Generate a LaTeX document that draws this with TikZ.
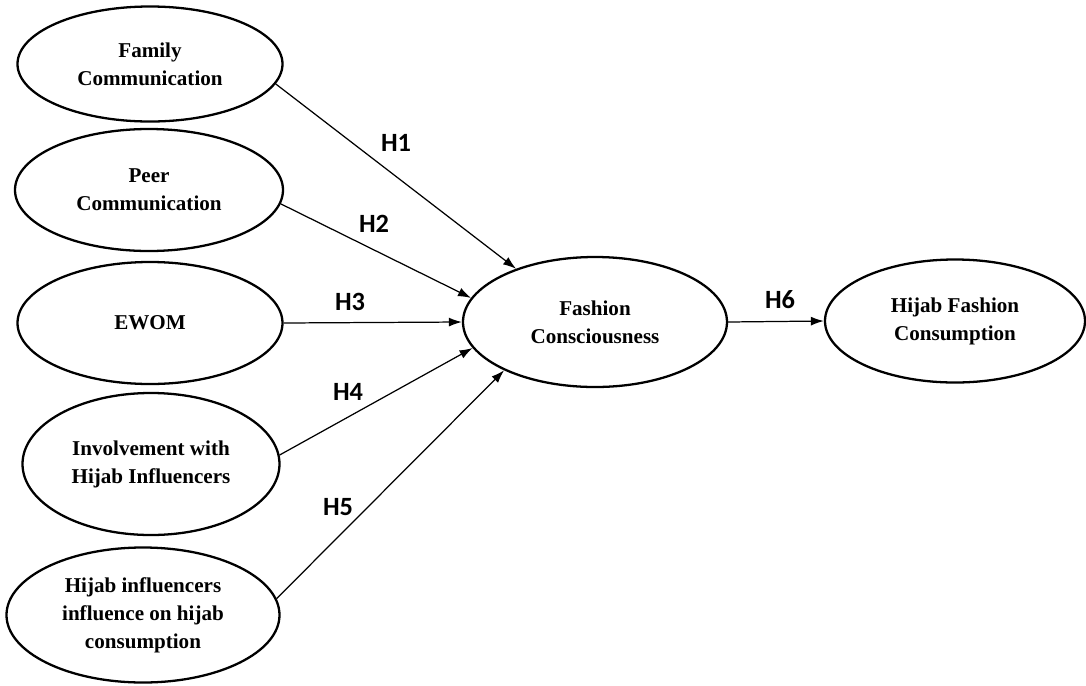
\documentclass[tikz,border=0pt]{standalone}
\usepackage{fontspec}
\setmainfont{Liberation Serif}
\newfontfamily\hypfont{Carlito}
\usetikzlibrary{shapes}
\usetikzlibrary{arrows.meta}
\tikzstyle{Construct}=[ellipse,draw=black,line width=1.3pt,inner sep=0pt,
align=center,font=\bfseries\fontsize{12}{16}\selectfont]
\tikzstyle{Path}=[draw=black,line width=0.7pt,
-{Latex[length=2.6mm,width=1.8mm]}]
\tikzstyle{Hyp}=[font=\hypfont\bfseries\fontsize{15}{18}\selectfont]

\begin{document}
\begin{tikzpicture}[x=.2mm,y=-.2mm]
        \useasboundingbox(0,0)rectangle(1086,686);
        \node[Construct,minimum width=5.3cm,minimum height=2.3cm](fam)
            at(150,64){Family\\Communication};
        \node[Construct,minimum width=5.36cm,minimum height=2.44cm](peer)
            at(149,190){Peer\\Communication};
        \node[Construct,minimum width=5.3cm,minimum height=2.44cm](ewom)
            at(150,323){EWOM};
        \node[Construct,minimum width=5.14cm,minimum height=2.84cm](inv)
            at(151,464){Involvement with\\Hijab Influencers};
        \node[Construct,minimum width=5.46cm,minimum height=2.7cm](infl)
            at(143,615){Hijab influencers\\influence on hijab\\consumption};
        \node[Construct,minimum width=5.28cm,minimum height=2.6cm](fc)
            at(595,322){Fashion\\Consciousness};
        \node[Construct,minimum width=5.2cm,minimum height=2.46cm](hfc)
            at(955,321){Hijab Fashion\\Consumption};
        \draw[Path](fam.-9)--(fc.146);
        \draw[Path](peer.-6)--(fc.169);
        \draw[Path](ewom.0)--(fc.180);
        \draw[Path](inv.4)--(fc.192);
        \draw[Path](infl.7)--(fc.208);
        \draw[Path](fc.east)--(hfc.west);
        \node[Hyp](h1)at(396,143){H1};
        \node[Hyp](h2)at(374,224){H2};
        \node[Hyp](h3)at(350,302){H3};
        \node[Hyp](h4)at(348,392){H4};
        \node[Hyp](h5)at(338,507){H5};
        \node[Hyp](h6)at(780,300){H6};
    \end{tikzpicture}
\end{document}
